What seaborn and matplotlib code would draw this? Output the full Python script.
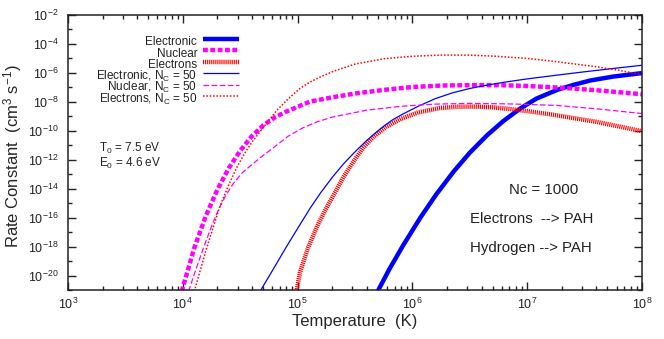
import numpy as np
import pandas as pd
import seaborn as sns
import matplotlib.pyplot as plt
from matplotlib.ticker import FixedLocator, LogFormatterSciNotation, NullFormatter

# log10 temperature (K) / log10 rate constant (cm^3 s^-1)
# Nc = 1000
logT_electronic = [5.70, 5.8, 5.92, 6.07, 6.21, 6.36, 6.5, 6.65, 6.79, 6.94, 7.08, 7.26, 7.4, 7.55, 7.75, 8.0]
logk_electronic = [-21.05, -19.55, -17.91, -16.0, -14.38, -12.82, -11.53, -10.33, -9.36, -8.48, -7.8, -7.2, -6.86, -6.55, -6.28, -6.04]

logT_nuclear = [3.99, 4.1, 4.2, 4.3, 4.4, 4.5, 4.6, 4.7, 4.8, 4.9, 5.11, 5.31, 5.5, 5.75, 6.0, 6.25, 6.5, 6.75, 7.0, 7.3, 7.6, 8.0]
logk_nuclear = [-21.1, -18.1, -15.9, -14.1, -12.6, -11.4, -10.4, -9.65, -9.1, -8.7, -8.0, -7.7, -7.45, -7.2, -7.0, -6.9, -6.87, -6.87, -6.93, -7.05, -7.22, -7.5]

logT_electrons = [4.99, 5.02, 5.09, 5.17, 5.24, 5.31, 5.4, 5.49, 5.57, 5.66, 5.77, 5.9, 6.05, 6.24, 6.4, 6.55, 6.7, 6.85, 7.0, 7.2, 7.37, 7.6, 7.8, 8.0]
logk_electrons = [-21.1, -19.8, -18.1, -16.6, -15.5, -14.5, -13.2, -12.1, -11.2, -10.45, -9.75, -9.2, -8.75, -8.45, -8.36, -8.35, -8.4, -8.52, -8.66, -8.88, -9.1, -9.4, -9.72, -10.05]

# Nc = 50
logT_electronic50 = [4.68, 4.8, 4.9, 5.02, 5.11, 5.2, 5.31, 5.4, 5.49, 5.6, 5.68, 5.75, 5.83, 5.92, 6.05, 6.2, 6.35, 6.5, 6.65, 6.8, 7.0, 7.26, 7.5, 7.75, 8.0]
logk_electronic50 = [-21.0, -19.4, -18.05, -16.5, -15.35, -14.3, -13.15, -12.3, -11.55, -10.7, -10.15, -9.7, -9.25, -8.85, -8.33, -7.8, -7.4, -7.1, -6.87, -6.67, -6.44, -6.18, -5.95, -5.72, -5.5]

logT_nuclear50 = [4.05, 4.1, 4.18, 4.26, 4.32, 4.38, 4.44, 4.52, 4.61, 4.7, 4.8, 4.92, 5.05, 5.17, 5.3, 5.6, 5.9, 6.2, 6.5, 6.8, 7.0, 7.26, 7.6, 8.0]
logk_nuclear50 = [-21.1, -19.9, -18.1, -16.4, -15.3, -14.4, -13.65, -12.9, -12.3, -11.72, -11.12, -10.38, -9.8, -9.4, -9.08, -8.6, -8.33, -8.18, -8.13, -8.16, -8.2, -8.27, -8.5, -8.83]

logT_electrons50 = [4.1, 4.2, 4.32, 4.4, 4.47, 4.54, 4.61, 4.7, 4.82, 4.92, 5.02, 5.11, 5.2, 5.31, 5.5, 5.75, 6.0, 6.24, 6.5, 6.73, 7.0, 7.2, 7.37, 7.6, 7.8, 8.0]
logk_electrons50 = [-21.1, -18.3, -15.3, -13.75, -12.55, -11.55, -10.72, -9.8, -8.6, -7.8, -7.1, -6.65, -6.3, -5.92, -5.42, -5.05, -4.88, -4.8, -4.8, -4.88, -5.03, -5.2, -5.37, -5.6, -5.85, -6.15]

series = [
    ("Electronic", logT_electronic, logk_electronic),
    ("Nuclear", logT_nuclear, logk_nuclear),
    ("Electrons", logT_electrons, logk_electrons),
    (r"Electronic, N$_\mathrm{C}$ = 50", logT_electronic50, logk_electronic50),
    (r"Nuclear, N$_\mathrm{C}$ = 50", logT_nuclear50, logk_nuclear50),
    (r"Electrons, N$_\mathrm{C}$ = 50", logT_electrons50, logk_electrons50),
]
styles = [
    dict(color="#0000ff", lw=3.2, linestyle="-"),
    dict(color="#ff00ff", lw=3.2, linestyle=(0, (1.1, 0.55))),
    dict(color="#ff0000", lw=3.2, linestyle=(0, (0.26, 0.2))),
    dict(color="#0000ff", lw=0.9, linestyle="-"),
    dict(color="#ff00ff", lw=0.9, linestyle=(0, (4.5, 2.0))),
    dict(color="#ff0000", lw=1.1, linestyle=(0, (1.0, 1.2))),
]

sns.set_style("ticks")
plt.rcParams['font.family'] = ['Liberation Sans', 'DejaVu Sans']
plt.rcParams['mathtext.fontset'] = 'custom'
plt.rcParams['mathtext.rm'] = 'Liberation Sans'
plt.rcParams['mathtext.it'] = 'Liberation Sans:italic'
plt.rcParams['mathtext.bf'] = 'Liberation Sans:bold'
plt.rcParams['text.color'] = '#222222'

fig = plt.figure(figsize=(6.64, 3.39), dpi=100)
ax = fig.add_axes([0.1024, 0.1445, 0.8645, 0.8127])
ax.set_xscale("log")
ax.set_yscale("log")

for (name, lt, lk), st in zip(series, styles):
    df = pd.DataFrame({"T": 10.0 ** np.array(lt), "k": 10.0 ** np.array(lk)})
    sns.lineplot(data=df, x="T", y="k", ax=ax, label=name,
                 dash_capstyle="butt", solid_capstyle="butt", **st)

ax.set_xlim(1e3, 1e8)
ax.set_ylim(1e-21, 1e-2)

ax.yaxis.set_major_locator(FixedLocator([10.0 ** e for e in range(-20, -1, 2)]))
ax.yaxis.set_minor_locator(FixedLocator([10.0 ** e for e in range(-21, -2, 2)]))
ax.yaxis.set_major_formatter(LogFormatterSciNotation())
ax.yaxis.set_minor_formatter(NullFormatter())

ax.tick_params(which="both", direction="in", top=True, right=True, width=1.0, colors="#222222")
ax.tick_params(which="major", length=6, labelsize=9)
ax.tick_params(axis="x", which="major", pad=5)
ax.tick_params(axis="y", which="major", pad=7)
ax.tick_params(which="minor", length=3)
for sp in ax.spines.values():
    sp.set_linewidth(1.1)
    sp.set_color("#222222")

ax.set_xlabel("Temperature  (K)", fontsize=12)
ax.set_ylabel(r"Rate Constant  (cm$^3$ s$^{-1}$)", fontsize=12)
ax.xaxis.set_label_coords(0.5, -0.088)
ax.yaxis.set_label_coords(-0.076, 0.485)

# tall handle boxes keep every legend row the same height
ax.legend(loc="upper right", bbox_to_anchor=(0.298, 0.936), frameon=False,
          markerfirst=False, fontsize=8.5, handlelength=3.05, handletextpad=0.5,
          handleheight=2.0, labelspacing=-0.57, borderpad=0, borderaxespad=0)

ax.text(0.054, 0.515, r"T$_0$ = 7.5 eV", transform=ax.transAxes, fontsize=8.5, va="center")
ax.text(0.054, 0.458, r"E$_0$ = 4.6 eV", transform=ax.transAxes, fontsize=8.5, va="center")
ax.text(0.829, 0.363, "Nc = 1000", transform=ax.transAxes, fontsize=10.8, ha="center", va="center")
ax.text(0.700, 0.257, "Electrons  --> PAH", transform=ax.transAxes, fontsize=10.8, va="center")
ax.text(0.700, 0.153, "Hydrogen --> PAH", transform=ax.transAxes, fontsize=10.8, va="center")

fig.savefig("out.png", dpi=100)
